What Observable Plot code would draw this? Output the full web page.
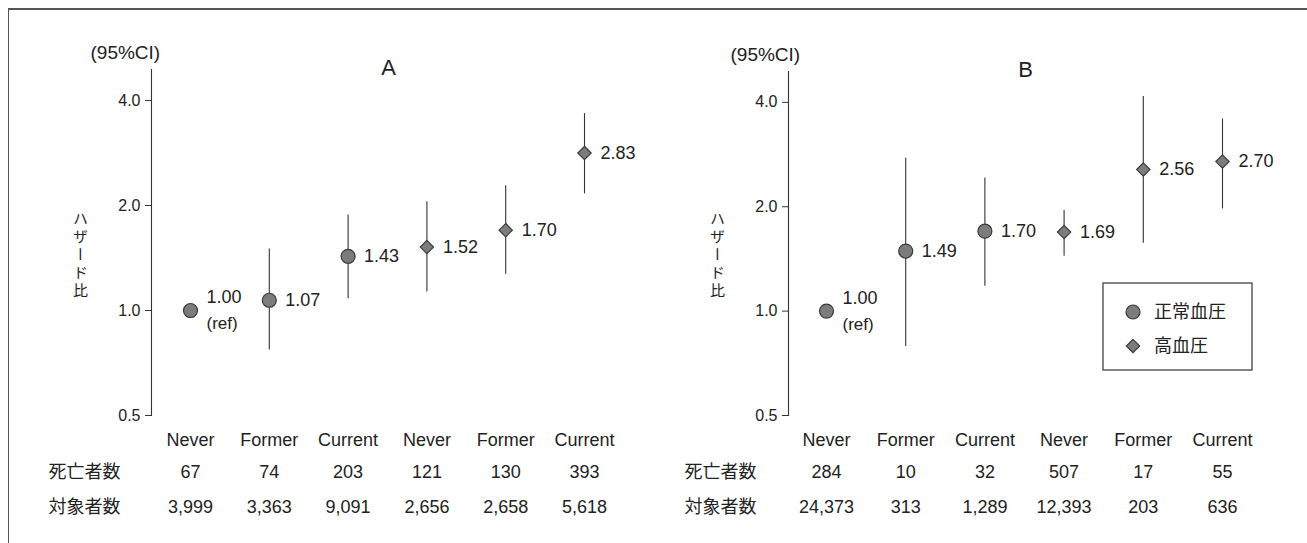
<!DOCTYPE html>
<html>
<head>
<meta charset="utf-8">
<script src="https://cdn.jsdelivr.net/npm/d3@7"></script>
<script src="https://cdn.jsdelivr.net/npm/@observablehq/plot@0.6"></script>
<style>
  body { margin: 0; background: #fff; }
  #chart { position: relative; width: 1307px; height: 543px; overflow: hidden; background: #fff; }
  #chart svg { position: absolute; top: 0; background: transparent; color: #222; }
  #border { position: absolute; left: 8px; top: 8px; width: 1320px; height: 560px;
            border-top: 2px solid #555; border-left: 1.5px solid #555; pointer-events: none; }
</style>
</head>
<body>
<div id="chart"><div id="border"></div></div>
<script>
// Smoking status and blood-pressure group for each of the six columns
const smoking = ["Never", "Former", "Current", "Never", "Former", "Current"];
const pressure = ["正常血圧", "正常血圧", "正常血圧", "高血圧", "高血圧", "高血圧"];

// Panel A: hazard ratios with 95% CI, deaths and subjects
const hrA = [1.00, 1.07, 1.43, 1.52, 1.70, 2.83];
const loA = [null, 0.77, 1.08, 1.13, 1.27, 2.16];
const hiA = [null, 1.50, 1.88, 2.05, 2.28, 3.67];
const deathsA = [67, 74, 203, 121, 130, 393];
const subjectsA = [3999, 3363, 9091, 2656, 2658, 5618];

// Panel B
const hrB = [1.00, 1.49, 1.70, 1.69, 2.56, 2.70];
const loB = [null, 0.79, 1.18, 1.44, 1.57, 1.97];
const hiB = [null, 2.76, 2.42, 1.95, 4.16, 3.58];
const deathsB = [284, 10, 32, 507, 17, 55];
const subjectsB = [24373, 313, 1289, 12393, 203, 636];

const yTicks = [0.5, 1.0, 2.0, 4.0];
const rowLabels = ["死亡者数", "対象者数"];
const legendItems = [
  {label: "正常血圧", symbol: "circle"},
  {label: "高血圧", symbol: "diamond2"}
];

const LATIN = "'Liberation Sans', Arial, sans-serif";
const CJK = "'Noto Sans CJK JP', 'Noto Sans', sans-serif";
const INK = "#222";
const MARK_FILL = "#7c7c7c";
const MARK_STROKE = "#3a3a3a";

function buildRows(hr, lo, hi, deaths, subjects) {
  return hr.map((v, i) => ({
    i, hr: v, lo: lo[i], hi: hi[i],
    smoking: smoking[i], pressure: pressure[i],
    deaths: deaths[i], subjects: subjects[i]
  }));
}

const fmtCount = d3.format(",");

function panel({title, rows, width, marginLeft, xRange, marginTop, rowLabelDx, ciDx, labelDy, withLegend}) {
  const bottom = 415;
  const ci = rows.filter(d => d.lo != null);
  const ref = rows.filter(d => d.lo == null);
  const normal = rows.filter(d => d.pressure === "正常血圧");
  const high = rows.filter(d => d.pressure === "高血圧");
  const tableText = {frameAnchor: "bottom", lineAnchor: "middle", fontSize: 18, fontFamily: LATIN, fill: INK};
  const rowLabelText = {frameAnchor: "bottom-left", lineAnchor: "middle", textAnchor: "start",
                        dx: rowLabelDx, fontSize: 18, fontFamily: CJK, fill: INK};

  const marks = [
    Plot.frame({anchor: "left", stroke: "#333", strokeWidth: 1.1}),
    Plot.axisY({ticks: yTicks, tickFormat: d => d.toFixed(1), tickSize: 6, tickPadding: 5,
                fontSize: 16, fontFamily: LATIN, label: null, stroke: "#333"}),
    // confidence intervals
    Plot.ruleX(ci, {x: "i", y1: "lo", y2: "hi", stroke: "#333", strokeWidth: 1.1}),
    // point estimates
    Plot.dot(normal, {x: "i", y: "hr", symbol: "circle", r: 7, fill: MARK_FILL, stroke: MARK_STROKE, strokeWidth: 1.2}),
    Plot.dot(high, {x: "i", y: "hr", symbol: "diamond2", r: 6, fill: MARK_FILL, stroke: MARK_STROKE, strokeWidth: 1.2}),
    // value labels
    Plot.text(ci, {x: "i", y: "hr", text: d => d.hr.toFixed(2), dx: 16, textAnchor: "start",
                   fontSize: 18, fontFamily: LATIN, fill: INK}),
    Plot.text(ref, {x: "i", y: "hr", text: d => d.hr.toFixed(2), dx: 16, dy: -13, textAnchor: "start",
                    fontSize: 18, fontFamily: LATIN, fill: INK}),
    Plot.text(ref, {x: "i", y: "hr", text: () => "(ref)", dx: 16, dy: 13, textAnchor: "start",
                    fontSize: 17, fontFamily: LATIN, fill: INK}),
    // header texts
    Plot.text(["(95%CI)"], {frameAnchor: "top-left", textAnchor: "start", lineAnchor: "middle",
                            dx: ciDx, dy: -17, fontSize: 19, fontFamily: LATIN, fill: INK}),
    Plot.text([title], {frameAnchor: "top-left", textAnchor: "middle", lineAnchor: "middle",
                        dx: 237, dy: -2, fontSize: 22, fontFamily: LATIN, fill: INK}),
    Plot.text(["ハザード比"], {frameAnchor: "left", textAnchor: "start", dx: -71, dy: labelDy,
                               fontSize: 15, fontFamily: CJK, fill: INK, className: "ylabel"}),
    // table under the axis
    Plot.text(rows, {...tableText, x: "i", text: "smoking", dy: 25}),
    Plot.text(rows, {...tableText, x: "i", text: d => String(d.deaths), dy: 57}),
    Plot.text(rows, {...tableText, x: "i", text: d => fmtCount(d.subjects), dy: 92}),
    Plot.text([rowLabels[0]], {...rowLabelText, dy: 57}),
    Plot.text([rowLabels[1]], {...rowLabelText, dy: 92})
  ];

  if (withLegend) {
    marks.push(() => {
      const g = d3.create("svg:g");
      const bx = 450, by = 283, bw = 149, bh = 87;
      g.append("rect").attr("x", bx).attr("y", by).attr("width", bw).attr("height", bh)
        .attr("fill", "#fff").attr("stroke", "#333").attr("stroke-width", 1.2);
      legendItems.forEach((item, k) => {
        const cy = by + 29 + k * 34;
        const sym = item.symbol === "circle" ? d3.symbolCircle : d3.symbolDiamond2;
        const r = item.symbol === "circle" ? 7 : 6;
        g.append("path")
          .attr("d", d3.symbol(sym, Math.PI * r * r)())
          .attr("transform", `translate(${bx + 30},${cy})`)
          .attr("fill", MARK_FILL).attr("stroke", MARK_STROKE).attr("stroke-width", 1.2);
        g.append("text").attr("x", bx + 51).attr("y", cy).attr("dy", "0.35em")
          .attr("text-anchor", "start")
          .attr("font-family", CJK).attr("font-size", 18).attr("fill", INK)
          .text(item.label);
      });
      return g.node();
    });
  }

  const svg = Plot.plot({
    width, height: 543,
    marginLeft, marginRight: 0, marginTop, marginBottom: 543 - bottom,
    x: {domain: [0, 5], range: xRange, axis: null},
    y: {type: "log", domain: [0.5, 4.91], axis: null},
    marks
  });

  // Vertical (tategaki) writing for the axis title
  d3.select(svg).selectAll(".ylabel text")
    .attr("dy", null)
    .attr("text-anchor", "start")
    .style("writing-mode", "vertical-rl")
    .style("text-orientation", "upright")
    .style("letter-spacing", "3px");
  return svg;
}

const chart = document.getElementById("chart");
const border = document.getElementById("border");

const svgA = panel({
  title: "A", rows: buildRows(hrA, loA, hiA, deathsA, subjectsA),
  width: 653, marginLeft: 151, xRange: [190, 584], marginTop: 69,
  rowLabelDx: -103, ciDx: -61, labelDy: -36, withLegend: false
});
svgA.style.left = "0px";

const svgB = panel({
  title: "B", rows: buildRows(hrB, loB, hiB, deathsB, subjectsB),
  width: 654, marginLeft: 135, xRange: [173, 569], marginTop: 71,
  rowLabelDx: -104, ciDx: -58, labelDy: -37, withLegend: true
});
svgB.style.left = "653px";

chart.insertBefore(svgA, border);
chart.insertBefore(svgB, border);
</script>
</body>
</html>
